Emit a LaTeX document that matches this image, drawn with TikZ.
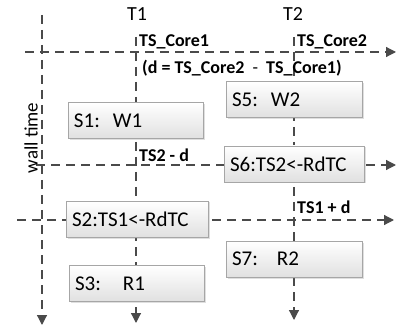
\documentclass[tikz,border=0pt]{standalone}
\usepackage{fontspec}
\setmainfont{Carlito}
\usepackage{tikz}
\usetikzlibrary{arrows.meta, shadows}

\definecolor{linegray}{HTML}{4A4A4A}
\definecolor{boxedge}{HTML}{A6A6A6}

\begin{document}
\begin{tikzpicture}[
    x=1pt, y=1pt,
    stmt/.style={rectangle, draw=boxedge, top color=white, bottom color=black!12, minimum height=36pt, inner xsep=6pt, align=left, font=\fontsize{21}{24}\selectfont, drop shadow={opacity=0.25, shadow xshift=1.5pt, shadow yshift=-1.5pt}},
    timeline/.style={draw=linegray, line width=1.2pt, dash pattern=on 9pt off 6pt, -{Triangle[length=10pt, width=10pt]}},
    thread/.style={font=\fontsize{20}{24}\selectfont},
    stamp/.style={font=\fontsize{18}{20}\bfseries\selectfont, anchor=base west, inner sep=0pt}
]
\useasboundingbox (0,0) rectangle (397,-329);

\coordinate (wall top) at (42,-15);
\coordinate (wall end) at (42,-325);
\coordinate (t1 top) at (136,-37);
\coordinate (t1 end) at (136,-323);
\coordinate (t2 top) at (294,-37);
\coordinate (t2 end) at (294,-320);
\coordinate (core start) at (25,-52);
\coordinate (core end) at (396,-52);
\coordinate (ts2 start) at (36,-165);
\coordinate (ts2 end) at (396,-165);
\coordinate (ts1 start) at (17,-220);
\coordinate (ts1 end) at (394,-220);

\draw[timeline] (wall top) -- (wall end);
\draw[timeline] (t1 top) -- (t1 end);
\draw[timeline] (t2 top) -- (t2 end);
\draw[timeline] (core start) -- (core end);
\draw[timeline] (ts2 start) -- (ts2 end);
\draw[timeline] (ts1 start) -- (ts1 end);

\node[thread] (t1) at (137,-14.5) {T1};
\node[thread] (t2) at (293,-14.5) {T2};
\node[rotate=90, font=\fontsize{19}{21}\selectfont] (walltime) at (31,-138) {wall time};

\node[stamp] (core1) at (139,-47) {TS\_Core1};
\node[stamp] (core2) at (297,-47) {TS\_Core2};
\node[stamp] (delta) at (142,-74) {(d = TS\_Core2~~\textmd{-}~~TS\_Core1)};
\node[stamp] (ts2d) at (139,-161) {TS2 - d};
\node[stamp] (ts1d) at (297,-214) {TS1 + d};

\node[stmt, text width=123pt] (s1) at (135.5,-120.5) {S1:\hspace{13pt}W1};
\node[stmt, text width=124pt] (s5) at (294,-99.5) {S5:\hspace{13pt}W2};
\node[stmt, text width=128pt] (s6) at (294,-164) {S6:TS2<-RdTC};
\node[stmt, text width=130pt] (s2) at (137,-219) {S2:TS1<-RdTC};
\node[stmt, text width=123pt] (s3) at (136.5,-283.5) {S3:\hspace{22pt}R1};
\node[stmt, text width=124pt] (s7) at (294,-259) {S7:\hspace{19pt}R2};

\end{tikzpicture}
\end{document}
